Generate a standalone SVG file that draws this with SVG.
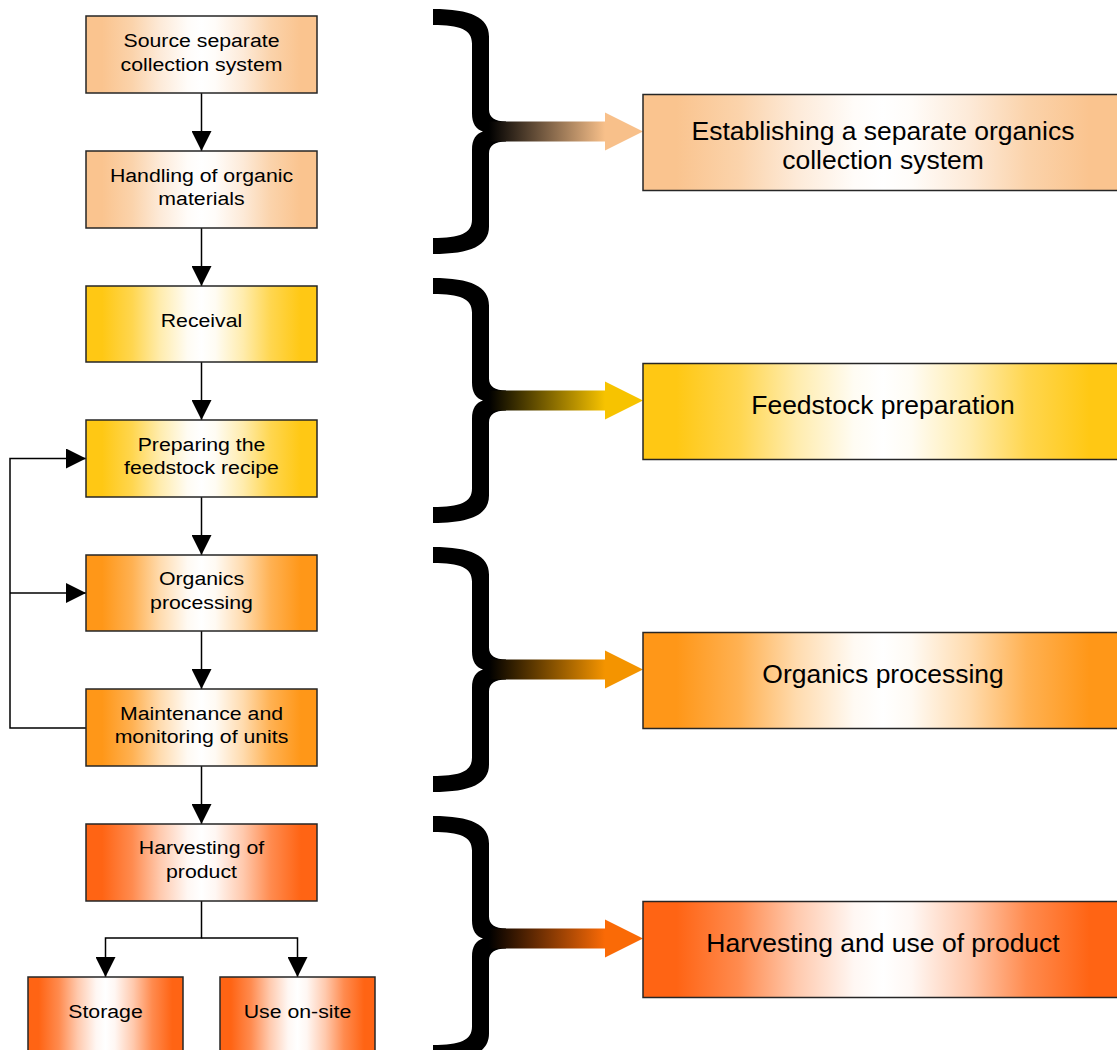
<svg xmlns="http://www.w3.org/2000/svg" xmlns:xlink="http://www.w3.org/1999/xlink" width="1117" height="1050" viewBox="0 0 1117 1050">
<style>
  .box { stroke: #262626; stroke-width: 1.5; }
  .lt { font-family: "Liberation Sans", Arial, sans-serif; font-size: 19px; fill: #000; text-anchor: middle; }
  .rt { font-family: "Liberation Sans", Arial, sans-serif; font-size: 25px; fill: #000; text-anchor: middle; }
  .con { fill: none; stroke: #000; stroke-width: 1.5; }
</style>
<defs>
  <linearGradient id="gPeach" x1="0" y1="0" x2="1" y2="0">
    <stop offset="0" stop-color="#FAC48F"/><stop offset="0.07" stop-color="#FAC48F"/>
    <stop offset="0.2" stop-color="#FBD3AB"/><stop offset="0.32" stop-color="#FDEAD8"/>
    <stop offset="0.44" stop-color="#FFFCF9"/><stop offset="0.5" stop-color="#FFFFFF"/>
    <stop offset="0.56" stop-color="#FFFCF9"/><stop offset="0.68" stop-color="#FDEAD8"/>
    <stop offset="0.8" stop-color="#FBD3AB"/><stop offset="0.93" stop-color="#FAC48F"/>
    <stop offset="1" stop-color="#FAC48F"/>
  </linearGradient>
  <linearGradient id="gYellow" x1="0" y1="0" x2="1" y2="0">
    <stop offset="0" stop-color="#FFC814"/><stop offset="0.07" stop-color="#FFC814"/>
    <stop offset="0.2" stop-color="#FFD64F"/><stop offset="0.32" stop-color="#FFECAD"/>
    <stop offset="0.44" stop-color="#FFFCF3"/><stop offset="0.5" stop-color="#FFFFFF"/>
    <stop offset="0.56" stop-color="#FFFCF3"/><stop offset="0.68" stop-color="#FFECAD"/>
    <stop offset="0.8" stop-color="#FFD64F"/><stop offset="0.93" stop-color="#FFC814"/>
    <stop offset="1" stop-color="#FFC814"/>
  </linearGradient>
  <linearGradient id="gOrange" x1="0" y1="0" x2="1" y2="0">
    <stop offset="0" stop-color="#FF9718"/><stop offset="0.07" stop-color="#FF9718"/>
    <stop offset="0.2" stop-color="#FFB152"/><stop offset="0.32" stop-color="#FFDBAE"/>
    <stop offset="0.44" stop-color="#FFFAF3"/><stop offset="0.5" stop-color="#FFFFFF"/>
    <stop offset="0.56" stop-color="#FFFAF3"/><stop offset="0.68" stop-color="#FFDBAE"/>
    <stop offset="0.8" stop-color="#FFB152"/><stop offset="0.93" stop-color="#FF9718"/>
    <stop offset="1" stop-color="#FF9718"/>
  </linearGradient>
  <linearGradient id="gRed" x1="0" y1="0" x2="1" y2="0">
    <stop offset="0" stop-color="#FF6414"/><stop offset="0.07" stop-color="#FF6414"/>
    <stop offset="0.2" stop-color="#FF8B4F"/><stop offset="0.32" stop-color="#FFC9AD"/>
    <stop offset="0.44" stop-color="#FFF7F3"/><stop offset="0.5" stop-color="#FFFFFF"/>
    <stop offset="0.56" stop-color="#FFF7F3"/><stop offset="0.68" stop-color="#FFC9AD"/>
    <stop offset="0.8" stop-color="#FF8B4F"/><stop offset="0.93" stop-color="#FF6414"/>
    <stop offset="1" stop-color="#FF6414"/>
  </linearGradient>
  <linearGradient id="aPeach" gradientUnits="userSpaceOnUse" x1="489" y1="0" x2="605" y2="0">
    <stop offset="0" stop-color="#000"/><stop offset="1" stop-color="#F8C08A"/>
  </linearGradient>
  <linearGradient id="aYellow" gradientUnits="userSpaceOnUse" x1="489" y1="0" x2="605" y2="0">
    <stop offset="0" stop-color="#000"/><stop offset="1" stop-color="#F7C300"/>
  </linearGradient>
  <linearGradient id="aOrange" gradientUnits="userSpaceOnUse" x1="489" y1="0" x2="605" y2="0">
    <stop offset="0" stop-color="#000"/><stop offset="1" stop-color="#F49400"/>
  </linearGradient>
  <linearGradient id="aRed" gradientUnits="userSpaceOnUse" x1="489" y1="0" x2="605" y2="0">
    <stop offset="0" stop-color="#000"/><stop offset="1" stop-color="#FA6A06"/>
  </linearGradient>
  <marker id="ah" markerWidth="20" markerHeight="20" refX="20" refY="10" orient="auto" markerUnits="userSpaceOnUse">
    <path d="M0,0 L20,10 L0,20 Z" fill="#000"/>
  </marker>
  <path id="brace" fill="#000" d="M433,-122.5 C471,-122.5 489,-114 489,-95 L489,-22 C489,-14 495,-10 506,-10 L506,10 C495,10 489,14 489,22 L489,95 C489,114 471,122.5 433,122.5 L433,106.5 C460,106.5 472,102 472,88 L472,18 C472,8 476,2 483,0 C476,-2 472,-8 472,-18 L472,-88 C472,-102 460,-106.5 433,-106.5 Z"/>
</defs>
<rect width="1117" height="1050" fill="#FFFFFF"/>

<g id="connectors">
  <line class="con" x1="201.5" y1="93" x2="201.5" y2="151" marker-end="url(#ah)"/>
  <line class="con" x1="201.5" y1="228" x2="201.5" y2="286" marker-end="url(#ah)"/>
  <line class="con" x1="201.5" y1="362" x2="201.5" y2="420" marker-end="url(#ah)"/>
  <line class="con" x1="201.5" y1="497" x2="201.5" y2="555" marker-end="url(#ah)"/>
  <line class="con" x1="201.5" y1="631" x2="201.5" y2="689" marker-end="url(#ah)"/>
  <line class="con" x1="201.5" y1="766" x2="201.5" y2="824" marker-end="url(#ah)"/>
  <polyline class="con" points="86,728 10,728 10,458.5 86,458.5" marker-end="url(#ah)"/>
  <line class="con" x1="10" y1="593" x2="86" y2="593" marker-end="url(#ah)"/>
  <polyline class="con" points="201.5,901 201.5,938 105.5,938 105.5,977" marker-end="url(#ah)"/>
  <polyline class="con" points="201.5,938 297.5,938 297.5,977" marker-end="url(#ah)"/>
</g>

<g id="braces">
  <g id="brace1"><use xlink:href="#brace" y="131.5"/>
    <rect x="489" y="121.5" width="117" height="20" fill="url(#aPeach)"/>
    <path d="M605,112.5 L643,131.5 L605,150.5 Z" fill="#F8C08A"/></g>
  <g id="brace2"><use xlink:href="#brace" y="400.5"/>
    <rect x="489" y="390.5" width="117" height="20" fill="url(#aYellow)"/>
    <path d="M605,381.5 L643,400.5 L605,419.5 Z" fill="#F7C300"/></g>
  <g id="brace3"><use xlink:href="#brace" y="669.5"/>
    <rect x="489" y="659.5" width="117" height="20" fill="url(#aOrange)"/>
    <path d="M605,650.5 L643,669.5 L605,688.5 Z" fill="#F49400"/></g>
  <g id="brace4"><use xlink:href="#brace" y="938.5"/>
    <rect x="489" y="928.5" width="117" height="20" fill="url(#aRed)"/>
    <path d="M605,919.5 L643,938.5 L605,957.5 Z" fill="#FA6A06"/></g>
</g>

<g id="n1"><rect class="box" x="86" y="16" width="231" height="77" fill="url(#gPeach)"/>
  <text class="lt" transform="translate(201.5,0) scale(1.12,1)"><tspan x="0" y="47.5">Source separate</tspan><tspan x="0" y="71">collection system</tspan></text></g>
<g id="n2"><rect class="box" x="86" y="151" width="231" height="77" fill="url(#gPeach)"/>
  <text class="lt" transform="translate(201.5,0) scale(1.12,1)"><tspan x="0" y="182">Handling of organic</tspan><tspan x="0" y="205.5">materials</tspan></text></g>
<g id="n3"><rect class="box" x="86" y="286" width="231" height="76" fill="url(#gYellow)"/>
  <text class="lt" transform="translate(201.5,0) scale(1.12,1)" x="0" y="327">Receival</text></g>
<g id="n4"><rect class="box" x="86" y="420" width="231" height="77" fill="url(#gYellow)"/>
  <text class="lt" transform="translate(201.5,0) scale(1.12,1)"><tspan x="0" y="451">Preparing the</tspan><tspan x="0" y="474.5">feedstock recipe</tspan></text></g>
<g id="n5"><rect class="box" x="86" y="555" width="231" height="76" fill="url(#gOrange)"/>
  <text class="lt" transform="translate(201.5,0) scale(1.12,1)"><tspan x="0" y="585.5">Organics</tspan><tspan x="0" y="609">processing</tspan></text></g>
<g id="n6"><rect class="box" x="86" y="689" width="231" height="77" fill="url(#gOrange)"/>
  <text class="lt" transform="translate(201.5,0) scale(1.12,1)"><tspan x="0" y="720">Maintenance and</tspan><tspan x="0" y="743.5">monitoring of units</tspan></text></g>
<g id="n7"><rect class="box" x="86" y="824" width="231" height="77" fill="url(#gRed)"/>
  <text class="lt" transform="translate(201.5,0) scale(1.12,1)"><tspan x="0" y="854.5">Harvesting of</tspan><tspan x="0" y="878">product</tspan></text></g>
<g id="n8"><rect class="box" x="28" y="977" width="155" height="77" fill="url(#gRed)"/>
  <text class="lt" transform="translate(105.5,0) scale(1.12,1)" x="0" y="1018.5">Storage</text></g>
<g id="n9"><rect class="box" x="220" y="977" width="155" height="77" fill="url(#gRed)"/>
  <text class="lt" transform="translate(297.5,0) scale(1.12,1)" x="0" y="1018.5">Use on-site</text></g>

<g id="r1"><rect class="box" x="643" y="94.5" width="480" height="96" fill="url(#gPeach)"/>
  <text class="rt" transform="translate(883,0) scale(1.06,1)"><tspan x="0" y="140.5">Establishing a separate organics</tspan><tspan x="0" y="169">collection system</tspan></text></g>
<g id="r2"><rect class="box" x="643" y="363.5" width="480" height="96" fill="url(#gYellow)"/>
  <text class="rt" transform="translate(883,0) scale(1.06,1)" x="0" y="414">Feedstock preparation</text></g>
<g id="r3"><rect class="box" x="643" y="632.5" width="480" height="96" fill="url(#gOrange)"/>
  <text class="rt" transform="translate(883,0) scale(1.06,1)" x="0" y="683">Organics processing</text></g>
<g id="r4"><rect class="box" x="643" y="901.5" width="480" height="96" fill="url(#gRed)"/>
  <text class="rt" transform="translate(883,0) scale(1.06,1)" x="0" y="952">Harvesting and use of product</text></g>
</svg>
